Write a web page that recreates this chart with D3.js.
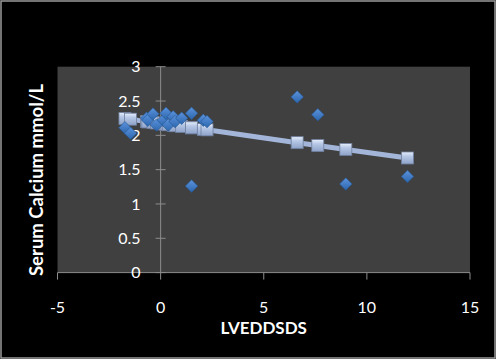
<!DOCTYPE html>
<html lang="en">
<head>
<meta charset="utf-8">
<title>Serum Calcium vs LVEDDSDS</title>
<style>
  html,body{margin:0;background:#000}
  svg{display:block}
  .tick-label{font-family:Lato,"Open Sans",sans-serif;font-size:16px;fill:#fff}
  .axis-title{font-family:Lato,"Open Sans",sans-serif;font-size:17px;font-weight:bold;fill:#fff}
</style>
<script src="https://d3js.org/d3.v7.min.js"></script>
</head>
<body>
<svg id="chart" width="496" height="359"></svg>
<script>
// observed values (diamonds)
const lveddsds = [-1.73,-1.46,-0.68,-0.62,-0.37,-0.2,0.13,0.26,0.37,0.61,0.7,1.02,1.5,1.5,2.07,2.25,6.62,7.62,8.98,11.97];
const calcium  = [2.11,2.03,2.25,2.22,2.31,2.15,2.22,2.32,2.15,2.27,2.2,2.25,2.32,1.26,2.22,2.2,2.56,2.3,1.29,1.4];
// fitted trend (squares) at the same x
const fitted   = [2.245,2.235,2.2,2.195,2.185,2.18,2.165,2.16,2.155,2.145,2.14,2.13,2.11,2.11,2.085,2.08,1.893,1.851,1.795,1.67];
const xTicks = [-5,0,5,10,15];
const yTicks = [0,0.5,1,1.5,2,2.5,3];

const svg=d3.select('#chart');
const W=496,H=359;
const plot={l:57.5,r:470,t:66.7,b:272.6};

svg.append('rect').attr('x',0).attr('y',0).attr('width',W).attr('height',H).attr('fill','#000');
svg.append('rect').attr('x',1).attr('y',1).attr('width',W-2).attr('height',H-2)
   .attr('fill','none').attr('stroke','#9a9a9a').attr('stroke-width',1.5);

const x=d3.scaleLinear().domain([-5,15]).range([plot.l,plot.r]);
const y=d3.scaleLinear().domain([0,3]).range([plot.b,plot.t]);

svg.append('rect').attr('x',plot.l).attr('y',plot.t)
   .attr('width',plot.r-plot.l).attr('height',plot.b-plot.t).attr('fill','#404040');

const defs=svg.append('defs');
const gSq=defs.append('linearGradient').attr('id','sq').attr('x1',0).attr('y1',0).attr('x2',0).attr('y2',1);
gSq.append('stop').attr('offset','0').attr('stop-color','#e6eefb');
gSq.append('stop').attr('offset','0.35').attr('stop-color','#b7c8e6');
gSq.append('stop').attr('offset','1').attr('stop-color','#8ea3c9');
const gDi=defs.append('linearGradient').attr('id','di').attr('x1',0).attr('y1',0).attr('x2',0).attr('y2',1);
gDi.append('stop').attr('offset','0').attr('stop-color','#5b93dc');
gDi.append('stop').attr('offset','1').attr('stop-color','#2c66ad');

// y axis at x=0, crossing ticks
const ax=svg.append('g').attr('stroke','#8c8c8c').attr('stroke-width',1);
ax.append('line').attr('x1',x(0)).attr('x2',x(0)).attr('y1',y(3)).attr('y2',y(0));
ax.selectAll('.yt').data(yTicks).enter().append('line')
  .attr('x1',x(0)-5).attr('x2',x(0)+5).attr('y1',d=>y(d)).attr('y2',d=>y(d));
// x axis at y=0, ticks below
ax.append('line').attr('x1',x(-5)).attr('x2',x(15)).attr('y1',y(0)).attr('y2',y(0));
ax.selectAll('.xt').data(xTicks).enter().append('line')
  .attr('x1',d=>x(d)).attr('x2',d=>x(d)).attr('y1',y(0)).attr('y2',y(0)+7);

svg.selectAll('.ylab').data(yTicks).enter().append('text').attr('class','tick-label')
  .attr('x',x(0)-20).attr('y',d=>y(d)).attr('dy','0.35em').attr('text-anchor','end')
  .text(d=>d3.format('')(d));
svg.selectAll('.xlab').data(xTicks).enter().append('text').attr('class','tick-label')
  .attr('x',d=>x(d)).attr('y',307).attr('dy','0.35em').attr('text-anchor','middle').text(d=>d);

svg.append('text').attr('class','axis-title').attr('x',x(5)).attr('y',328).attr('dy','0.35em')
   .attr('text-anchor','middle').text('LVEDDSDS');
svg.append('text').attr('class','axis-title').style('font-size','18.5px')
   .attr('transform','translate(37,180) rotate(-90)').attr('dy','0.35em')
   .attr('text-anchor','middle').text('Serum Calcium mmol/L');

// trend line with square markers
const pts=lveddsds.map((v,i)=>({x:v,y:fitted[i],o:calcium[i]}));
const fitPts=pts.slice().sort((a,b)=>a.x-b.x);
svg.append('path').datum(fitPts).attr('fill','none').attr('stroke','#a3b6da').attr('stroke-width',5)
   .attr('d',d3.line().x(d=>x(d.x)).y(d=>y(d.y)));
svg.append('g').selectAll('rect').data(fitPts).enter().append('rect')
   .attr('x',d=>x(d.x)-6).attr('y',d=>y(d.y)-6).attr('width',12).attr('height',12)
   .attr('fill','url(#sq)').attr('stroke','#6f7f9e').attr('stroke-width',0.8);

// observations as diamonds
svg.append('g').selectAll('path').data(pts).enter().append('path')
   .attr('d',d3.symbol().type(d3.symbolDiamond2).size(100))
   .attr('transform',d=>`translate(${x(d.x)},${y(d.o)})`)
   .attr('fill','url(#di)').attr('stroke','#24548f').attr('stroke-width',0.6);
</script>
</body>
</html>
